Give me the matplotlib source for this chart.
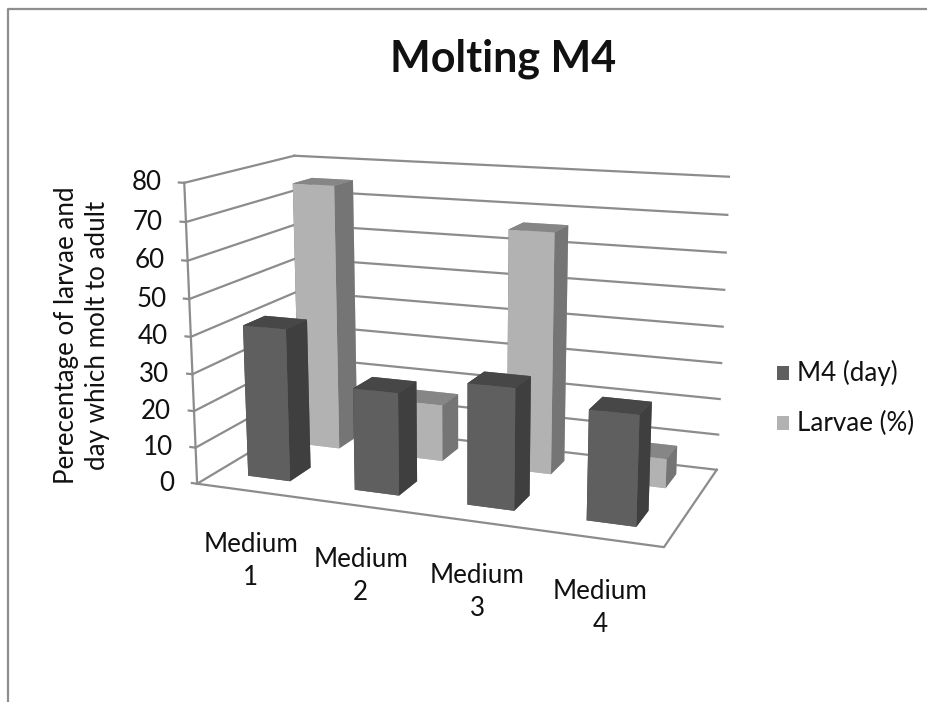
import matplotlib
matplotlib.use("Agg")
import matplotlib.pyplot as plt
from matplotlib.patches import Rectangle
from mpl_toolkits.mplot3d import proj3d

# Values
categories = ["Medium\n1", "Medium\n2", "Medium\n3", "Medium\n4"]
m4_day = [41.5, 27.5, 32, 28.5]
larvae_pct = [75, 16, 66, 8]
z_ticks = [0, 10, 20, 30, 40, 50, 60, 70, 80]

# bar3d face order: bottom, top, front, back, left, right
m4_faces = ["#5f5f5f", "#474747", "#5f5f5f", "#5f5f5f", "#3f3f3f", "#3f3f3f"]
larvae_faces = ["#b2b2b2", "#868686", "#b2b2b2", "#b2b2b2", "#757575", "#757575"]
line_col = "#8c8c8c"

W, H = 928, 702
FS = 18.7
plt.rcParams["font.family"] = "Lato"

fig = plt.figure(figsize=(W / 100, H / 100), dpi=100)
ax = fig.add_axes([-0.014, 0.014, 1, 1], projection="3d", computed_zorder=False)
ax.set_proj_type("persp", focal_length=0.4)
ax.view_init(elev=13.5, azim=-69)
ax.set_box_aspect((482, 232, 306), zoom=0.85)
ax.set_xlim(0, 4, view_margin=0)
ax.set_ylim(0, 2, view_margin=0)
ax.set_zlim(0, 80, view_margin=0)
ax.set_axis_off()


def to_display(x, y, z):
    px, py, _ = proj3d.proj_transform(x, y, z, ax.get_proj())
    return ax.transData.transform((px, py))


# walls and floor
for z in z_ticks:
    ax.plot([0, 4], [2, 2], [z, z], color=line_col, lw=1.6, zorder=1)
    ax.plot([0, 0], [0, 2], [z, z], color=line_col, lw=1.6, zorder=1)
    ax.plot([-0.05, 0], [0, 0], [z, z], color=line_col, lw=1.6, zorder=1)
ax.plot([0, 0], [0, 0], [0, 80], color=line_col, lw=1.6, zorder=1)
ax.plot([0, 4, 4], [0, 0, 2], [0, 0, 0], color=line_col, lw=1.6, zorder=1)

bar_w = 0.4
bar_d = 0.4
for row, vals, faces, zo in [(1, larvae_pct, larvae_faces, 2), (0, m4_day, m4_faces, 3)]:
    for i, v in enumerate(vals):
        ax.bar3d(i + 0.5 - bar_w / 2, row + 0.55 - bar_d / 2, 0, bar_w, bar_d, v,
                 color=faces, shade=False, zorder=zo + i * 0.1, linewidth=0)

fig.canvas.draw()

# category labels hang a fixed distance under the front edge
for i, cat in enumerate(categories):
    dx, dy = to_display(i + 0.5, 0, 0)
    fig.text((dx + 1) / W, (dy - 70) / H, cat, ha="center", va="center", fontsize=FS,
             linespacing=1.4, color="#111111")

# tick labels sit a fixed distance left of the slanted axis
for z in z_ticks:
    dx, dy = to_display(0, 0, z)
    fig.text((dx - 23) / W, dy / H, str(z), ha="right", va="center",
             fontsize=FS, color="#111111")

fig.text(503 / W, 1 - 59 / H, "Molting M4", ha="center", va="center",
         fontsize=31, fontweight="bold", color="#111111")
fig.text(82 / W, 1 - 335 / H, "Perecentage of larvae and\nday which molt to adult",
         rotation=90, ha="center", va="center", multialignment="center",
         fontsize=FS, linespacing=1.33, color="#111111")

# legend
for y, col, label in [(373, m4_faces[0], "M4 (day)"), (423, larvae_faces[0], "Larvae (%)")]:
    fig.add_artist(Rectangle((777 / W, 1 - (y + 7) / H), 12 / W, 14 / H,
                             transform=fig.transFigure, color=col, lw=0))
    fig.text(797 / W, 1 - y / H, label, ha="left", va="center", fontsize=FS, color="#111111")

# chart frame, cut off by the crop at right and bottom
fig.add_artist(plt.Line2D([7.5 / W, 7.5 / W, 1], [0, 1 - 9 / H, 1 - 9 / H],
                          transform=fig.transFigure, color="#8e8e8e", lw=1.6))

fig.savefig("out.png", dpi=100)
